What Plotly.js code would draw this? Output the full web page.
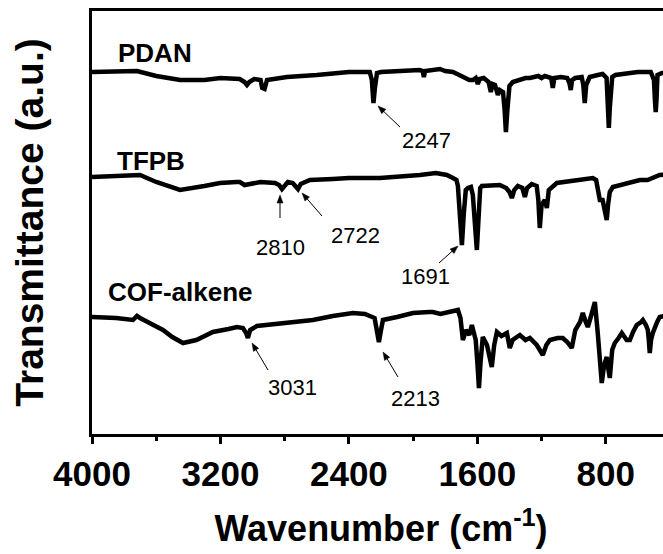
<!DOCTYPE html>
<html>
<head>
<meta charset="utf-8">
<script src="https://cdn.plot.ly/plotly-3.0.1.min.js"></script>
<style>
html,body{margin:0;padding:0;overflow:hidden;background:#fff;}
#chart{width:680px;height:554px;}
</style>
</head>
<body>
<div id="chart"></div>
<script>
// Wavenumbers (cm-1) and transmittance (a.u., offset stacked)
var pdanWn = [4000,3850,3720,3600,3450,3300,3200,3080,3050,3035,3020,2990,2950,2940,2925,2910,2850,2786,2600,2400,2300,2270,2257,2247,2238,2225,2200,2100,1960,1940,1933,1925,1880,1833,1800,1752,1700,1650,1628,1610,1597,1585,1560,1530,1516,1505,1490,1472,1460,1440,1430,1422,1413,1400,1379,1340,1300,1273,1250,1220,1200,1180,1140,1130,1120,1080,1040,1025,1018,1010,990,950,940,931,922,900,850,820,795,786,781,775,760,740,700,650,600,520,500,494,489,484,478,450,400];
var pdanT = [362,363,363,358,354,354,356,355,352,349,352,355,354,346,345,354,356,357,359,362,362,362,354,331,346,361,362,363,364,363,357,363,364,365,363,362,358,354,354,356,350,355,356,352,342,350,349,339,344,342,324,302,324,348,352,354,356,356,357,358,356,358,356,346,356,357,356,350,344,354,356,357,349,331,349,357,359,360,356,324,306,326,357,359,360,361,362,362,354,334,322,334,359,361,361];

var tfpbWn = [4000,3850,3701,3600,3452,3300,3203,3100,3079,3050,3016,2950,2860,2835,2817,2800,2780,2750,2735,2717,2700,2643,2500,2400,2207,2082,1958,1858,1790,1752,1730,1721,1712,1696,1685,1672,1659,1640,1628,1612,1603,1593,1582,1572,1520,1460,1420,1400,1385,1370,1348,1320,1304,1290,1261,1230,1220,1211,1200,1180,1167,1155,1105,1000,881,860,845,837,820,806,794,786,775,756,700,669,630,588,540,500,464,400];
var tfpbT = [257,258,259,252,244,248,251,252,252,249,250,252,251,249,245,249,252,251,248,245,250,254,255,256,256,257,259,261,259,256,254,248,229,189,219,244,246,247,239,209,184,214,246,248,248,249,246,242,236,244,248,246,237,246,250,248,234,206,229,234,226,244,251,253,256,254,242,234,234,224,214,229,242,247,249,251,252,254,254,257,259,260];

var cofWn = [4000,3850,3745,3720,3701,3650,3558,3500,3433,3350,3247,3150,3097,3060,3040,3029,3015,2973,2800,2624,2500,2375,2300,2269,2240,2232,2213,2200,2188,2100,2001,1900,1877,1830,1796,1750,1721,1705,1690,1670,1650,1634,1610,1600,1590,1580,1566,1540,1520,1510,1495,1478,1450,1416,1398,1380,1335,1300,1273,1230,1192,1170,1148,1100,1068,1040,1012,990,960,943,925,912,890,868,850,838,825,810,794,785,775,760,744,720,700,670,650,630,607,580,569,550,538,532,526,518,507,480,464,430,400];
var cofT = [117,116,114,118,116,112,104,97,91,94,102,105,107,106,101,96,104,108,111,114,118,121,120,118,116,109,92,104,114,117,121,122,122,120,121,123,124,116,94,104,99,109,94,72,46,72,97,89,74,67,89,102,98,101,86,94,99,94,96,89,79,89,94,96,96,92,86,104,112,121,112,107,119,132,101,74,51,69,77,66,56,84,91,96,101,94,94,102,109,112,114,109,104,94,81,94,101,112,117,118,119];

var seriesNames = ['PDAN','TFPB','COF-alkene'];
var peakLabels = ['2247','2810','2722','1691','3031','2213'];

// pixel helpers for placing labels (plot area: x 92..670 px, y 11..434 px)
var X0 = 4000, X1 = 400, L = 92, W = 578, T = 11, H = 423;
function px2x(px){ return X0 - (px - L) * (X0 - X1) / W; }
function py2y(py){ return (T + H) - py; }

var lineStyle = {color:'#000', width:4.5};
var traces = [
  {x: pdanWn, y: pdanT, name: seriesNames[0]},
  {x: tfpbWn, y: tfpbT, name: seriesNames[1]},
  {x: cofWn, y: cofT, name: seriesNames[2]}
].map(function(t){ t.type='scatter'; t.mode='lines'; t.line=lineStyle; t.showlegend=false; t.hoverinfo='skip'; return t; });

var F = 'Arial, "Liberation Sans", sans-serif';
var annotations = [];
var shapes = [];
// series labels
[[seriesNames[0],116,53],[seriesNames[1],115,161],[seriesNames[2],106,292]].forEach(function(s){
  annotations.push({x:px2x(s[1]), y:py2y(s[2]), xref:'x', yref:'y', text:s[0], showarrow:false,
    xanchor:'left', yanchor:'middle', font:{family:F, size:26, weight:'bold', color:'#000'}});
});
// peak labels: [text, head px, head py, tail px, tail py, text cx, text cy]
var peaks = [
  [peakLabels[0],378,106,400,127,426,140],
  [peakLabels[1],280,195,280,218,280,247],
  [peakLabels[2],302,193,322,216,355,235],
  [peakLabels[3],458,246,439,263,425,276],
  [peakLabels[4],252,343,268,370,292,387],
  [peakLabels[5],383,352,398,377,415,398]
];
peaks.forEach(function(p){
  var hx = px2x(p[1]), hy = py2y(p[2]);
  var dx = p[3]-p[1], dy = -(p[4]-p[2]); // shape pixel coords: y up
  var len = Math.sqrt(dx*dx+dy*dy), ux = dx/len, uy = dy/len;
  var al = 8, aw = 3;
  var bx = ux*al, by = uy*al;
  var p1x = bx - uy*aw, p1y = by + ux*aw, p2x = bx + uy*aw, p2y = by - ux*aw;
  shapes.push({type:'line', xref:'x', yref:'y', xsizemode:'pixel', ysizemode:'pixel', xanchor:hx, yanchor:hy,
    x0:bx*0.6, y0:by*0.6, x1:dx, y1:dy, line:{color:'#000', width:1}});
  shapes.push({type:'path', xref:'x', yref:'y', xsizemode:'pixel', ysizemode:'pixel', xanchor:hx, yanchor:hy,
    path:'M0,0 L'+p1x.toFixed(2)+','+p1y.toFixed(2)+' L'+p2x.toFixed(2)+','+p2y.toFixed(2)+' Z',
    fillcolor:'#000', line:{color:'#000', width:0.5}});
  annotations.push({x:px2x(p[5]), y:py2y(p[6]), xref:'x', yref:'y', text:p[0], showarrow:false,
    xanchor:'center', yanchor:'middle', font:{family:F, size:22, color:'#000'}});
});

var layout = {
  width: 680, height: 554,
  margin: {l: L, r: 680 - L - W, t: T, b: 554 - T - H},
  paper_bgcolor: '#fff', plot_bgcolor: '#fff',
  font: {family: F, color: '#000'},
  xaxis: {
    range: [X0, X1], showgrid: false, zeroline: false,
    showline: true, linewidth: 3, linecolor: '#000', mirror: true,
    ticks: 'outside', ticklen: 7, tickwidth: 3, tickcolor: '#000',
    tickvals: [4000,3200,2400,1600,800], ticktext: ['4000','3200','2400','1600','800'],
    tickfont: {family: F, size: 35, weight: 'bold', color: '#000'},
    minor: {tickvals: [3600,2800,2000,1200,400], ticks: 'outside', ticklen: 4, tickwidth: 3, tickcolor: '#000'},
    title: {text: 'Wavenumber (cm<sup>-1</sup>)', font: {family: F, size: 36, weight: 'bold', color: '#000'}, standoff: 24}
  },
  yaxis: {
    range: [0, H], showgrid: false, zeroline: false,
    showline: true, linewidth: 3, linecolor: '#000', mirror: false,
    ticks: '', showticklabels: false,
    title: {text: 'Transmittance (a.u.)', font: {family: F, size: 39, weight: 'bold', color: '#000'}, standoff: 34}
  },
  shapes: shapes,
  annotations: annotations
};

Plotly.newPlot('chart', traces, layout, {displayModeBar: false, staticPlot: true});
</script>
</body>
</html>
